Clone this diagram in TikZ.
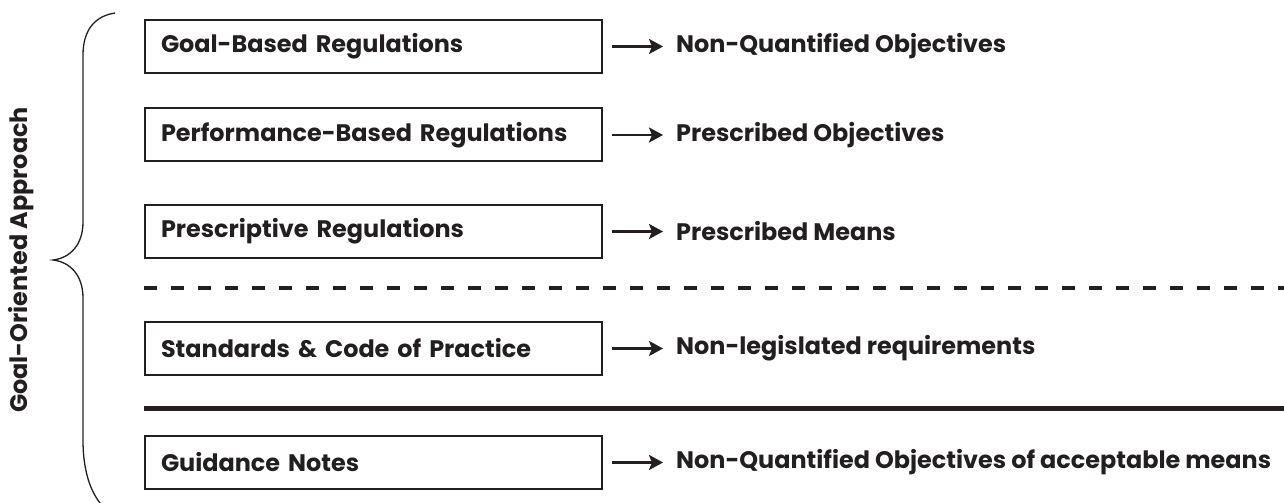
\documentclass[tikz,border=0pt]{standalone}
\usepackage{fontspec}
\setmainfont{Poppins}
\usetikzlibrary{arrows.meta}
\definecolor{ink}{HTML}{231F20}
\tikzset{
  regbox/.style={draw=ink, line width=2bp, minimum width=457bp, minimum height=53bp, inner xsep=16bp, anchor=west, text=ink, font=\bfseries\fontsize{24}{28}\selectfont, text width=425bp, align=left},
  outtext/.style={anchor=west, inner sep=0pt, text=ink, font=\bfseries\fontsize{24}{28}\selectfont},
  arr/.style={draw=ink, line width=2.5bp, -{Stealth[length=14bp, width=15bp, inset=3bp]}},
}
\begin{document}
\begin{tikzpicture}[x=1bp, y=-1bp]
\useasboundingbox (0,0) rectangle (1284,503);
% brace
\draw[ink, line width=1.3bp] (115,13) .. controls (95,16) and (83,30) .. (83,55) -- (83,222)
  .. controls (83,245) and (70,258) .. (53,260)
  .. controls (70,262) and (83,275) .. (83,298) -- (83,440)
  .. controls (83,470) and (90,490) .. (100,503);
\node[rotate=90, text=ink, font=\bfseries\fontsize{24}{28}\selectfont] (lab) at (21,260) {Goal-Oriented Approach};
% boxes
\node[regbox] (b1) at (144,46.5) {Goal-Based Regulations};
\node[regbox] (b2) at (144,135) {Performance-Based Regulations};
\node[regbox] (b3) at (144,231.5) {Prescriptive Regulations};
\node[regbox] (b4) at (144,348.5) {Standards \& Code of Practice};
\node[regbox] (b5) at (144,462.5) {Guidance Notes};
% outcomes
\node[outtext] (t1) at (676,46.5) {Non-Quantified Objectives};
\node[outtext] (t2) at (676,135) {Prescribed Objectives};
\node[outtext] (t3) at (676,231.5) {Prescribed Means};
\node[outtext] (t4) at (676,348.5) {Non-legislated requirements};
\node[outtext] (t5) at (676,462.5) {Non-Quantified Objectives of acceptable means};
\foreach \i in {1,...,5}{
  \draw[arr] ([xshift=9bp]b\i.east) -- ([xshift=-13bp]t\i.west);
}
% separators
\coordinate (d1) at (144,288);
\coordinate (d2) at (1284,288);
\draw[ink, line width=4bp, dash pattern=on 13bp off 14bp] (d1) -- (d2);
\coordinate (s1) at (144,409);
\coordinate (s2) at (1284,409);
\draw[ink, line width=5bp] (s1) -- (s2);
\end{tikzpicture}
\end{document}
